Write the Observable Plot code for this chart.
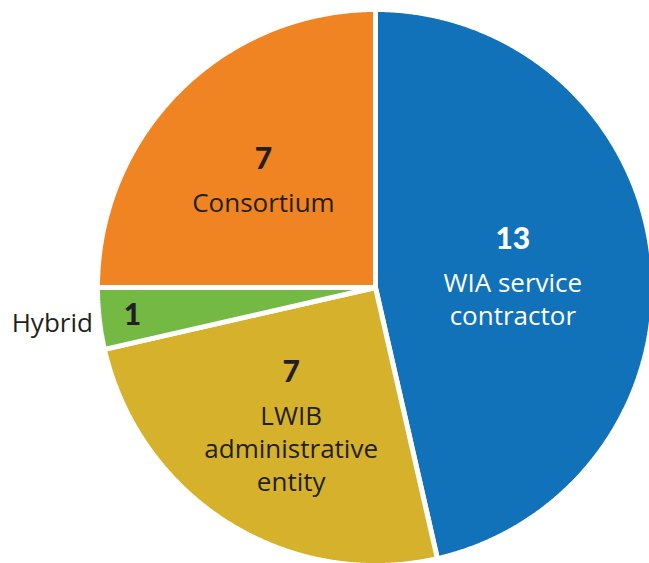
<!DOCTYPE html>
<html>
<head>
<meta charset="utf-8">
<script src="https://cdn.jsdelivr.net/npm/d3@7"></script>
<script src="https://cdn.jsdelivr.net/npm/@observablehq/plot@0.6"></script>
<style>
  html, body { margin: 0; padding: 0; background: #fff; }
  #chart { width: 649px; height: 563px; overflow: hidden; }
</style>
</head>
<body>
<div id="chart"></div>
<script>
// Data (clockwise from 12 o'clock)
const categories = ["WIA service contractor", "LWIB administrative entity", "Hybrid", "Consortium"];
const values = [13, 7, 1, 7];
const labelLines = [["WIA service", "contractor"], ["LWIB", "administrative", "entity"], ["Hybrid"], ["Consortium"]];
const colors = ["#1172ba", "#d6b12b", "#73b944", "#f08423"];
const textColors = ["#ffffff", "#231f20", "#231f20", "#231f20"];

const R = 278; // pixels per data unit (radius)
const cx = 375, cy = 287;

const pie = d3.pie().sort(null).value(d => d.value)(categories.map((c, i) => ({c, i, value: values[i]})));
const total = d3.sum(values);

// slice polygons
const pts = [];
pie.forEach(s => {
  pts.push({key: s.data.c, x: 0, y: 0});
  const n = Math.max(2, Math.ceil((s.endAngle - s.startAngle) / 0.005));
  for (let k = 0; k <= n; k++) {
    const a = s.startAngle + (s.endAngle - s.startAngle) * k / n;
    pts.push({key: s.data.c, x: Math.sin(a), y: Math.cos(a)});
  }
});

// labels
const nums = [], names = [];
const shift = 6; // px, nudge label blocks down
pie.forEach(s => {
  const i = s.data.i;
  const mid = (s.startAngle + s.endAngle) / 2;
  const half = (s.endAngle - s.startAngle) / 2;
  const lines = labelLines[i];
  if (s.data.value / total < 0.05) {
    nums.push({x: 0.88 * Math.sin(mid), y: 0.88 * Math.cos(mid), text: String(s.data.value), color: textColors[i]});
    names.push({x: 1.17 * Math.sin(mid), y: 1.17 * Math.cos(mid), text: lines[0], color: "#231f20"});
  } else {
    const centroid = 2 * Math.sin(half) / (3 * half);
    const r = 0.5 * 0.54 + 0.5 * centroid;
    const bx = r * Math.sin(mid), by = r * Math.cos(mid);
    const gap = 44, lh = 33;
    const span = gap + lh * (lines.length - 1);
    const top = -span / 2 + shift;
    nums.push({x: bx, y: by - top / R, text: String(s.data.value), color: textColors[i]});
    lines.forEach((l, j) => {
      names.push({x: bx, y: by - (top + gap + lh * j) / R, text: l, color: textColors[i]});
    });
  }
});

const chart = Plot.plot({
  width: 649,
  height: 563,
  margin: 0,
  x: {domain: [-1, 1], range: [cx - R, cx + R], axis: null},
  y: {domain: [-1, 1], range: [cy + R, cy - R], axis: null},
  color: {domain: categories, range: colors},
  style: {background: "#fff"},
  marks: [
    Plot.line(pts, {x: "x", y: "y", z: "key", fill: "key", stroke: "white", strokeWidth: 5, strokeLinejoin: "miter", curve: "linear-closed"}),
    Plot.text(nums, {x: "x", y: "y", text: "text", fill: d => d.color, fontSize: 30, fontWeight: 900, fontFamily: "Lato", textAnchor: "middle"}),
    Plot.text(names, {x: "x", y: "y", text: "text", fill: d => d.color, fontSize: 26, fontFamily: "Open Sans", textAnchor: "middle"})
  ]
});
document.getElementById("chart").appendChild(chart);
</script>
</body>
</html>
